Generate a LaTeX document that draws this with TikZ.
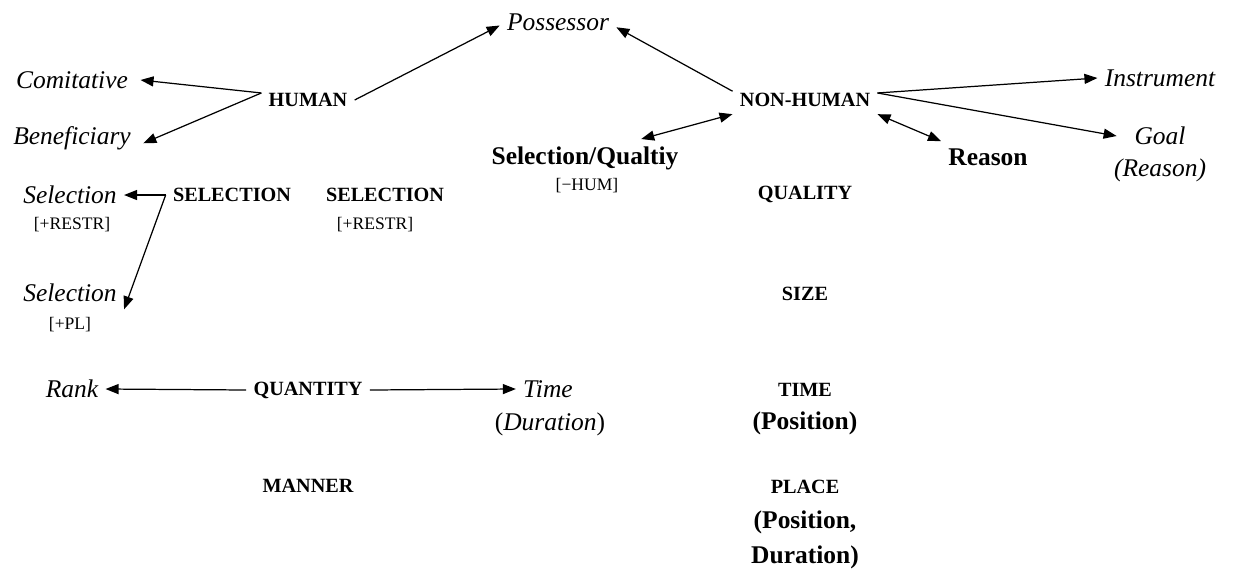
\documentclass[tikz,border=0pt]{standalone}
\usepackage{fontspec}
\setmainfont{Liberation Serif}
\usetikzlibrary{arrows.meta}

\begin{document}
\begin{tikzpicture}[x=0.02cm,y=-0.02cm,
		>={Triangle[length=2.6mm,width=2mm]},
		every node/.style={inner sep=4pt},
		cat/.style={font=\fontsize{11.5}{13}\selectfont\bfseries},
		bigcat/.style={font=\fontsize{14.5}{17}\selectfont\bfseries},
		role/.style={font=\fontsize{14.5}{17}\selectfont\itshape},
		feat/.style={font=\fontsize{10}{12}\selectfont},
		link/.style={->,line width=0.7pt},
		dlink/.style={<->,line width=0.7pt}]
		
		\useasboundingbox (0,0) rectangle (1234,572);
		
		\node[role] (poss) at (558,22) {Possessor};
		\node[role] (comit) at (72,80) {Comitative};
		\node[role] (benef) at (72,138) {Beneficiary};
		\node[cat] (hum) at (308,100) {HUMAN};
		\node[cat] (nonhum) at (805,100) {NON-HUMAN};
		\node[role] (instr) at (1160,78) {Instrument};
		\node[role] (goal) at (1160,136) {Goal};
		\node[role] (goalsub) at (1160,170) {(Reason)};
		\node[bigcat] (selq) at (585,158) {Selection/Qualtiy};
		\node[feat] (selqsub) at (587,186) {[−HUM]};
		\node[bigcat] (reason) at (988,157) {Reason};
		
		\node[role] (sela) at (70,195) {Selection};
		\node[feat] (selasub) at (72,225) {[+RESTR]};
		\node[cat] (selL) at (232,195) {SELECTION};
		\node[cat] (selM) at (385,195) {SELECTION};
		\node[feat] (selMsub) at (375,225) {[+RESTR]};
		\node[cat] (qual) at (805,194) {QUALITY};
		
		\node[role] (selb) at (70,293) {Selection};
		\node[feat] (selbsub) at (70,325) {[+PL]};
		\node[cat] (size) at (805,294) {SIZE};
		
		\node[role] (rank) at (72,389) {Rank};
		\node[cat] (qty) at (308,390) {QUANTITY};
		\node[role] (time) at (548,389) {Time};
		\node[font=\fontsize{14.5}{17}\selectfont] (timesub) at (550,424) {(\textit{Duration})};
		\node[cat] (tm) at (805,390) {TIME};
		\node[bigcat] (tmsub) at (805,423) {(Position)};
		
		\node[cat] (manner) at (308,486) {MANNER};
		\node[cat] (place) at (805,487) {PLACE};
		\node[bigcat] (placesub) at (805,522) {(Position,};
		\node[bigcat] (placesubb) at (805,557) {Duration)};
		
		\coordinate (hfork) at ([yshift=4pt]hum.west);
		\coordinate (sfork) at (selL.west);
		
		\draw[link] (hfork) -- ([xshift=3pt]comit.east);
		\draw[link] (hfork) -- ([xshift=3pt,yshift=-3pt]benef.east);
		\draw[link] (hum.east) -- ([yshift=-2pt]poss.west);
		\draw[link] ([yshift=5pt]nonhum.west) -- ([yshift=-3pt]poss.east);
		\draw[dlink] (nonhum.south west) -- ([xshift=32pt]selq.north);
		\draw[link] ([yshift=4pt]nonhum.east) -- (instr.west);
		\draw[link] ([yshift=4pt]nonhum.east) -- ([xshift=-6pt]goal.west);
		\draw[dlink] (nonhum.south east) -- (reason.north west);
		\draw[link] (sfork) -- (sela.east);
		\draw[link] (sfork) -- (selb.south east);
		\draw[link] (qty.west) -- (rank.east);
		\draw[link] (qty.east) -- (time.west);
		
\end{tikzpicture}
\end{document}
